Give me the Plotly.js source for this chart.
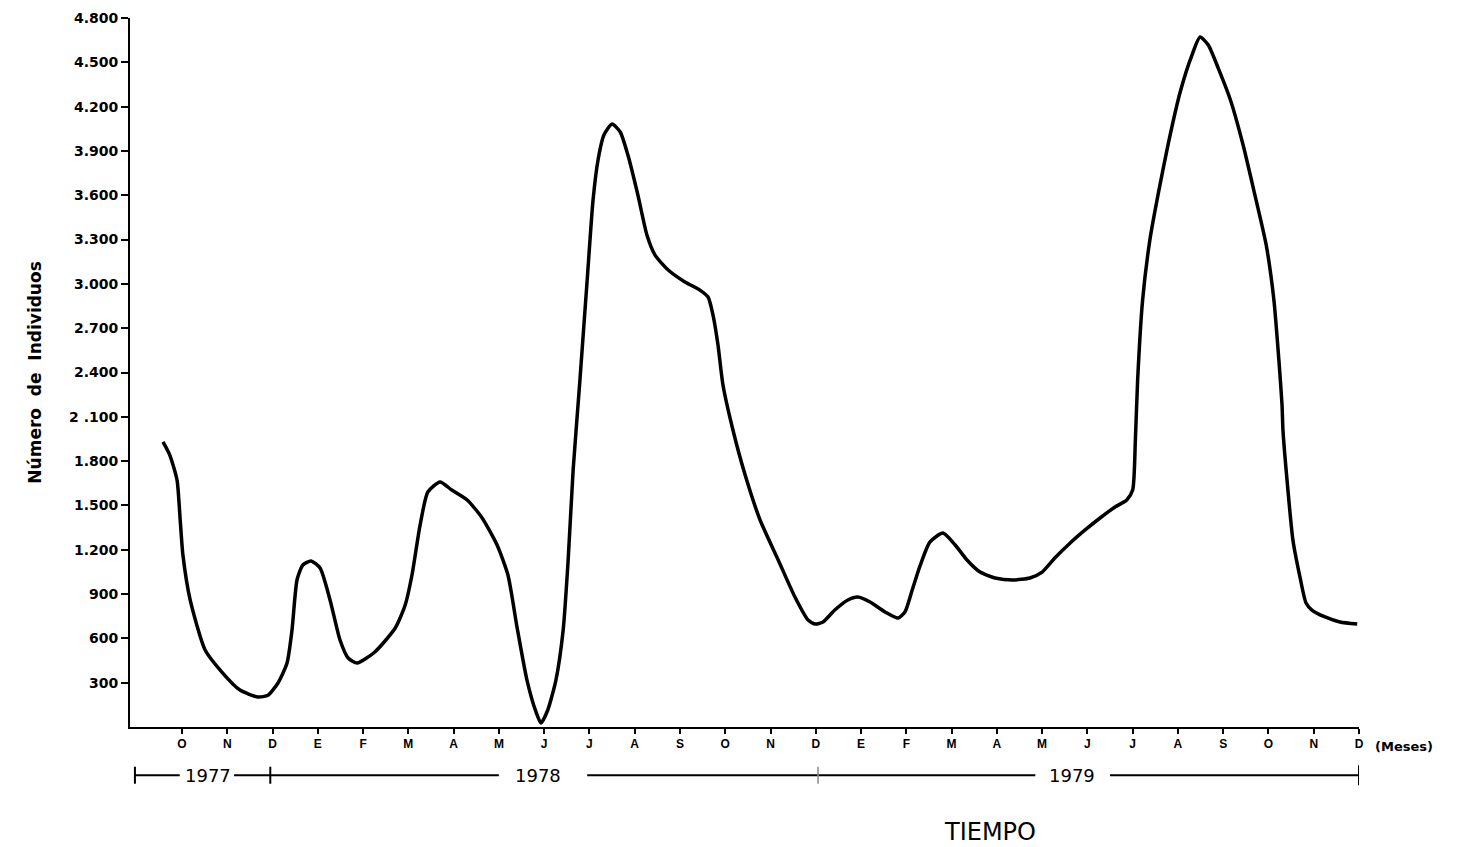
<!DOCTYPE html>
<html>
<head>
<meta charset="utf-8">
<script src="https://cdn.plot.ly/plotly-3.0.1.min.js"></script>
<style>html,body{margin:0;padding:0;background:#fff;}#chart{width:1465px;height:847px;}</style>
</head>
<body>
<div id="chart"></div>
<script>
// Month index: 0 = Octubre 1977 ... 26 = Diciembre 1979
const monthTicks = [0,1,2,3,4,5,6,7,8,9,10,11,12,13,14,15,16,17,18,19,20,21,22,23,24,25,26];
const monthLabels = ["O","N","D","E","F","M","A","M","J","J","A","S","O","N","D","E","F","M","A","M","J","J","A","S","O","N","D"];
const yTickVals = [300,600,900,1200,1500,1800,2100,2400,2700,3000,3300,3600,3900,4200,4500,4800];
const yTickText = ["300","600","900","1.200","1.500","1.800","2 .100","2.400","2.700","3.000","3.300","3.600","3.900","4.200","4.500","4.800"];

const months = [-0.42,-0.27,-0.11,-0.04,0.02,0.18,0.51,0.88,1.28,1.68,1.90,2.12,2.32,2.43,2.54,2.67,2.85,3.05,3.27,3.49,3.67,3.87,4.26,4.71,4.93,5.08,5.26,5.43,5.70,5.96,6.30,6.63,6.96,7.20,7.40,7.62,7.82,7.93,8.08,8.26,8.42,8.53,8.64,8.79,8.95,9.08,9.19,9.32,9.50,9.68,9.85,10.07,10.27,10.45,10.74,11.11,11.44,11.62,11.73,11.84,11.95,12.17,12.44,12.77,13.17,13.54,13.83,13.98,14.16,14.42,14.71,14.93,15.20,15.53,15.82,15.97,16.13,16.31,16.52,16.81,17.08,17.34,17.63,17.96,18.36,18.73,19.00,19.28,19.62,19.95,20.28,20.61,20.87,21.00,21.06,21.11,21.22,21.38,21.56,21.78,22.05,22.31,22.49,22.67,22.89,23.16,23.44,23.70,23.95,24.12,24.23,24.30,24.32,24.41,24.54,24.70,24.83,24.96,25.25,25.58,25.96];
const individuos = [1930,1841,1672,1401,1164,860,521,372,250,203,215,298,433,657,995,1097,1124,1076,860,589,467,433,508,670,826,1029,1368,1591,1659,1604,1537,1415,1232,1029,677,318,102,27,115,318,657,1131,1740,2349,3026,3568,3839,4008,4082,4028,3872,3602,3331,3195,3094,3013,2958,2911,2789,2586,2315,2011,1706,1401,1131,880,724,697,711,792,860,880,846,779,738,779,927,1097,1252,1313,1232,1131,1049,1009,995,1009,1049,1144,1246,1334,1415,1489,1537,1604,1943,2349,2891,3297,3602,3940,4299,4549,4671,4617,4461,4245,3940,3602,3263,2891,2485,2180,2011,1672,1266,1009,839,792,745,711,697];

const years = ["1977","1978","1979"];
const yearCenters = [0.57, 7.86, 19.66];

const yb = -0.068;
const shapes = [
  {type:'line', xref:'x', yref:'paper', x0:-1.04, x1:-0.05, y0:yb, y1:yb, line:{color:'#000', width:2}},
  {type:'line', xref:'x', yref:'paper', x0:1.15, x1:7.0, y0:yb, y1:yb, line:{color:'#000', width:2}},
  {type:'line', xref:'x', yref:'paper', x0:8.95, x1:18.85, y0:yb, y1:yb, line:{color:'#000', width:2}},
  {type:'line', xref:'x', yref:'paper', x0:20.5, x1:26, y0:yb, y1:yb, line:{color:'#000', width:2}},
  {type:'line', xref:'x', yref:'paper', x0:-1.04, x1:-1.04, y0:yb-0.012, y1:yb+0.012, line:{color:'#000', width:2}},
  {type:'line', xref:'x', yref:'paper', x0:1.95, x1:1.95, y0:yb-0.012, y1:yb+0.012, line:{color:'#000', width:2}},
  {type:'line', xref:'x', yref:'paper', x0:14.05, x1:14.05, y0:yb-0.012, y1:yb+0.012, line:{color:'#888', width:1.5}},
  {type:'line', xref:'x', yref:'paper', x0:26, x1:26, y0:yb-0.014, y1:yb+0.014, line:{color:'#000', width:2}}
];

const annotations = years.map((t,i)=>({
  text:t, xref:'x', yref:'paper', x:yearCenters[i], y:yb, showarrow:false,
  font:{family:'DejaVu Sans, sans-serif', size:18, color:'#000'}, xanchor:'center', yanchor:'middle'
}));
annotations.push({text:'(Meses)', xref:'paper', yref:'paper', x:1.011, y:-0.027, xanchor:'left', yanchor:'middle', showarrow:false,
  font:{family:'DejaVu Sans, sans-serif', size:13, weight:'bold', color:'#000'}});
annotations.push({text:'TIEMPO', xref:'paper', yref:'paper', x:0.70, y:-0.148, xanchor:'center', yanchor:'middle', showarrow:false,
  font:{family:'DejaVu Sans, sans-serif', size:24, color:'#000'}});
annotations.push({text:'Número  de  Individuos', xref:'paper', yref:'paper', x:-0.078, y:0.50, textangle:-90, xanchor:'center', yanchor:'middle', showarrow:false,
  font:{family:'DejaVu Sans, sans-serif', size:17, weight:'bold', color:'#000'}});

const trace = {
  x: months, y: individuos, type:'scatter', mode:'lines',
  line:{color:'#000', width:3.5, shape:'spline', smoothing:0.6},
  hoverinfo:'x+y'
};

const layout = {
  width:1465, height:847,
  margin:{l:130, r:106, t:18, b:120},
  paper_bgcolor:'#fff', plot_bgcolor:'#fff',
  showlegend:false,
  xaxis:{
    range:[-1.149, 26], tickmode:'array', tickvals:monthTicks, ticktext:monthLabels,
    showline:true, linecolor:'#000', linewidth:2, ticks:'outside', ticklen:5, tickwidth:2, tickcolor:'#000',
    showgrid:false, zeroline:false,
    tickfont:{family:'Liberation Sans, Arial, sans-serif', size:12, weight:'bold', color:'#000'}
  },
  yaxis:{
    range:[0, 4800], tickmode:'array', tickvals:yTickVals, ticktext:yTickText,
    showline:true, linecolor:'#000', linewidth:2, ticks:'outside', ticklen:7, tickwidth:2, tickcolor:'#000',
    showgrid:false, zeroline:false,
    tickfont:{family:'DejaVu Sans, sans-serif', size:14, weight:'bold', color:'#000'}
  },
  shapes: shapes,
  annotations: annotations
};

Plotly.newPlot('chart', [trace], layout, {displayModeBar:false, staticPlot:true});
</script>
</body>
</html>
